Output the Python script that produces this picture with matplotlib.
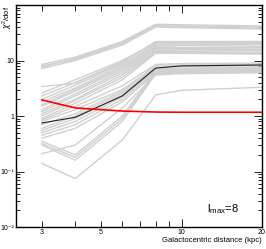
import numpy as np
import matplotlib
matplotlib.use("Agg")
import matplotlib.pyplot as plt
from matplotlib.ticker import FixedLocator, FixedFormatter, NullFormatter

plt.rcParams['font.family'] = ['Liberation Sans Narrow', 'Liberation Sans', 'DejaVu Sans']
plt.rcParams['mathtext.fontset'] = 'custom'
plt.rcParams['mathtext.rm'] = 'Liberation Sans'

# galactocentric distance (kpc)
radius = [3, 4, 6, 8, 10, 20]

# chi2/dof for each fit (grey), the reference fit (black) and the red curve
grey_fits = [
    [8.5, 11.5, 22, 45, 44, 42],
    [8.0, 10.5, 20, 42, 42, 40],
    [7.2, 10.0, 19, 40, 39, 37],
    [7.6, 11.0, 21, 43, 41, 38],
    [3.4, 3.9, 9.0, 22, 22, 22],
    [2.6, 4.5, 10, 21, 21, 21],
    [2.3, 4.0, 9.5, 20, 20, 20],
    [2.0, 3.6, 8.5, 19, 19, 19.5],
    [1.8, 3.2, 8.0, 18, 18.5, 18],
    [1.6, 3.0, 7.5, 17, 17, 17],
    [1.5, 2.8, 7.0, 16.5, 16.5, 16],
    [1.3, 2.5, 6.5, 16, 16, 15.5],
    [1.2, 2.3, 6.0, 15, 15.5, 15],
    [1.1, 2.0, 5.5, 14.5, 14.5, 14],
    [1.0, 1.9, 5.0, 14, 14, 13.5],
    [0.9, 1.7, 4.5, 13.5, 13.5, 13],
    [0.85, 1.5, 3.5, 8.5, 8.8, 9.0],
    [0.8, 1.3, 3.0, 8.0, 8.3, 8.6],
    [0.7, 1.1, 2.8, 7.5, 7.8, 8.0],
    [0.6, 1.0, 2.6, 7.0, 7.3, 7.5],
    [0.55, 0.9, 2.4, 6.8, 7.0, 7.2],
    [0.5, 0.8, 2.2, 6.5, 6.8, 7.0],
    [0.45, 0.7, 2.0, 6.2, 6.4, 6.6],
    [0.4, 0.6, 1.8, 6.0, 6.2, 6.3],
    [0.35, 0.2, 1.0, 6.5, 6.5, 6.8],
    [0.32, 0.18, 0.9, 6.0, 6.2, 6.4],
    [0.3, 0.16, 0.8, 5.8, 6.0, 6.2],
    [0.21, 0.3, 1.4, 5.5, 5.8, 6.0],
    [0.14, 0.075, 0.37, 2.4, 2.9, 3.3],
]
best_fit = [0.75, 0.95, 2.3, 7.3, 8.0, 8.3]
red_fit = [1.95, 1.4, 1.23, 1.18, 1.17, 1.17]

fig = plt.figure(figsize=(2.66, 2.49), dpi=100)
ax = fig.add_axes([0.06, 0.088, 0.925, 0.892])

for vals in grey_fits:
    ax.plot(radius, vals, color='#d0d0d0', lw=1.0)
ax.plot(radius, best_fit, color='#202020', lw=0.8)
ax.plot(radius, red_fit, color='red', lw=1.2)

ax.set_xscale('log')
ax.set_yscale('log')
ax.set_xlim(2.4, 20)
ax.set_ylim(0.01, 100)

ax.xaxis.set_major_locator(FixedLocator([10, 20]))
ax.xaxis.set_major_formatter(FixedFormatter(['10', '20']))
ax.xaxis.set_minor_locator(FixedLocator([3, 4, 5, 6, 7, 8, 9]))
ax.xaxis.set_minor_formatter(FixedFormatter(['3', '', '5', '', '', '', '']))

ax.yaxis.set_major_locator(FixedLocator([0.01, 0.1, 1, 10, 100]))
ax.yaxis.set_major_formatter(FixedFormatter(['10\u207b\u00b2', '10\u207b\u00b9', '1', '10', '']))
minor_y = [m * 10.0 ** e for e in range(-2, 2) for m in range(2, 10)]
ax.yaxis.set_minor_locator(FixedLocator(minor_y))
ax.yaxis.set_minor_formatter(NullFormatter())

ax.tick_params(which='both', direction='in', top=True, right=True,
               labelsize=5.0, width=0.6, pad=1.2)
ax.tick_params(which='major', length=6)
ax.tick_params(which='minor', length=3)
ax.tick_params(axis='x', which='minor', length=4)
for s in ax.spines.values():
    s.set_linewidth(1.0)

fig.text(0.985, 0.035, 'Galactocentric distance (kpc)', ha='right', va='center', fontsize=5.5)
fig.text(0.026, 0.975, r'$\chi^2$/dof', rotation=90, ha='center', va='top', fontsize=5.5)
ax.text(12.5, 0.021, r'$\mathregular{l_{max}}$=8', fontsize=8, ha='left', va='center')

fig.savefig('out.png', dpi=100)
